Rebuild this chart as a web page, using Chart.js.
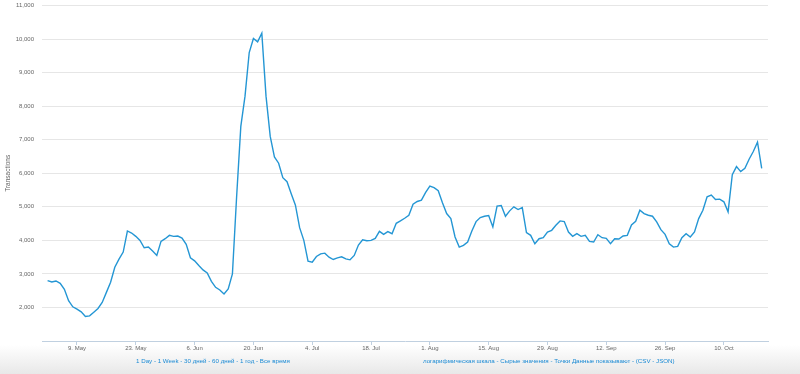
<!DOCTYPE html>
<html>
<head>
<meta charset="utf-8">
<script src="https://cdn.jsdelivr.net/npm/chart.js@4"></script>
<style>
  html, body { margin: 0; padding: 0; }
  body {
    width: 800px; height: 374px; overflow: hidden; position: relative;
    background: linear-gradient(to bottom, #ffffff 0px, #ffffff 345px, #e8e8e8 374px);
    font-family: 'Liberation Sans', Arial, sans-serif;
  }
  #chart { position: absolute; left: 0; top: -6px; }
  .links { position: absolute; top: 357px; font-size: 6.2px; color: #1a8ad4; white-space: nowrap; }
</style>
</head>
<body>
<canvas id="chart" width="800" height="380"></canvas>
<div class="links" style="left:136px">1 Day - 1 Week - 30 дней - 60 дней - 1 год - Все время</div>
<div class="links" style="left:423px">логарифмическая шкала - Сырые значения - Точки Данные показывают - (CSV - JSON)</div>
<script>
// days counted from 1 May 2016; first value is 2 May
const firstDay = 1;
const transactions = [
    2800, 2760, 2790, 2720, 2540, 2200, 2020, 1950, 1870, 1730,
    1750, 1860, 1970, 2150, 2450, 2750, 3200, 3440, 3650, 4280,
    4220, 4120, 4000, 3780, 3800, 3680, 3550, 3970, 4050, 4150,
    4120, 4130, 4070, 3880, 3480, 3390, 3250, 3120, 3030, 2780,
    2600, 2520, 2400, 2550, 3000, 5300, 7400, 8300, 9600, 10020,
    9920, 10180, 8300, 7100, 6490, 6300, 5870, 5750, 5390, 5050,
    4380, 4000, 3380, 3350, 3520, 3600, 3620, 3500, 3430, 3480,
    3510, 3450, 3420, 3550, 3860, 4020, 3990, 4000, 4060, 4270,
    4180, 4260, 4200, 4510, 4580, 4660, 4750, 5080, 5160, 5200,
    5430, 5620, 5570, 5480, 5120, 4800, 4650, 4100, 3800, 3850,
    3950, 4280, 4560, 4680, 4720, 4740, 4400, 5020, 5040, 4720,
    4880, 5000, 4920, 4980, 4230, 4150, 3900, 4050, 4080, 4250,
    4300, 4450, 4580, 4560, 4250, 4120, 4200, 4120, 4150, 3970,
    3950, 4170, 4080, 4060, 3900, 4050, 4040, 4130, 4150, 4460,
    4570, 4900, 4800, 4750, 4720, 4550, 4320, 4180, 3900, 3800,
    3820, 4080, 4200, 4100, 4250, 4650, 4900, 5300, 5350, 5220,
    5230, 5150, 4850, 5960, 6200, 6050, 6150, 6420, 6650, 6930, 6150
];
const tickDays = [8, 22, 36, 50, 64, 78, 92, 106, 120, 134, 148, 162];
const tickLabels = ['9. May', '23. May', '6. Jun', '20. Jun', '4. Jul', '18. Jul',
                    '1. Aug', '15. Aug', '29. Aug', '12. Sep', '26. Sep', '10. Oct'];

const points = transactions.map((v, i) => ({ x: firstDay + i, y: v }));
const small = { family: "'Liberation Sans', Arial, sans-serif", size: 6 };

new Chart(document.getElementById('chart').getContext('2d'), {
    type: 'line',
    data: {
        datasets: [{
            label: 'Transactions',
            data: points,
            borderColor: '#2496d4',
            borderWidth: 1.4,
            pointRadius: 0,
            tension: 0,
            fill: false
        }]
    },
    options: {
        responsive: false,
        animation: false,
        layout: { padding: { top: 5, right: 32, bottom: 0, left: 0 } },
        plugins: { legend: { display: false }, tooltip: { enabled: false } },
        scales: {
            x: {
                type: 'linear',
                min: -0.33,
                max: 172.5,
                afterBuildTicks: scale => { scale.ticks = tickDays.map(v => ({ value: v })); },
                afterFit: scale => { scale.height = 33; },
                border: { color: '#c0d0e0', width: 1 },
                grid: { drawOnChartArea: false, drawTicks: true, tickLength: 4, color: '#c0d0e0' },
                ticks: {
                    autoSkip: false, maxRotation: 0, padding: 0,
                    color: '#666', font: small,
                    callback: v => tickLabels[tickDays.indexOf(v)]
                }
            },
            y: {
                min: 1000,
                max: 11000,
                afterFit: scale => { scale.width = 42; },
                border: { display: false },
                grid: {
                    drawTicks: false,
                    lineWidth: 1,
                    color: ctx => ctx.tick && ctx.tick.value === 1000 ? 'rgba(0,0,0,0)' : '#e6e6e6'
                },
                ticks: {
                    stepSize: 1000, padding: 8, color: '#666', font: small,
                    callback: v => v === 1000 ? '' : v.toLocaleString('en-US')
                },
                title: {
                    display: true, text: 'Transactions', color: '#666',
                    font: { family: "'Liberation Sans', Arial, sans-serif", size: 6.5 },
                    padding: { top: 4, bottom: 0 }
                }
            }
        }
    }
});
</script>
</body>
</html>
